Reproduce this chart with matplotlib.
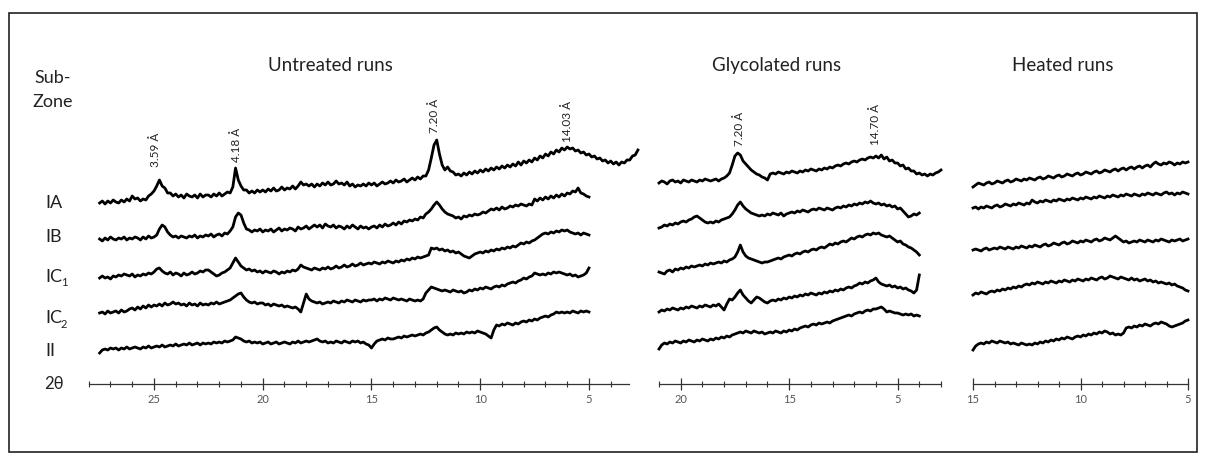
import numpy as np
import matplotlib.pyplot as plt
from matplotlib.patches import Rectangle
from matplotlib.ticker import MultipleLocator, FixedLocator

plt.rcParams['font.family'] = ['Lato', 'DejaVu Sans']

W, H = 1207, 462
STEP = 0.125

# row labels (sub-zones)
subzones = ["IA", "IB", "IC", "IC", "II"]
subscripts = ["", "", "1", "2", ""]

# ---- untreated runs, 2theta from 27.5 down (IA runs a little further)
unt_start = 27.5
unt_IA = [0, 2, -1, 2, 0, 3, 1, 0, 3, 1, 4, 2, 7, 4, 5, 2, 4, 3, 7, 9,
          12, 17, 23, 17, 15, 10, 10, 7, 9, 6, 8, 5, 9, 7, 6, 8, 5, 9, 6, 8,
          8, 6, 9, 7, 10, 7, 9, 11, 10, 16, 35, 23, 17, 13, 13, 10, 12, 10, 13, 11,
          13, 11, 14, 12, 15, 12, 13, 16, 13, 15, 14, 17, 14, 17, 21, 18, 19, 17, 19, 16,
          19, 17, 20, 18, 21, 18, 19, 22, 19, 20, 18, 21, 17, 19, 16, 18, 17, 19, 17, 20,
          18, 20, 17, 19, 21, 19, 20, 22, 20, 23, 21, 22, 24, 21, 23, 25, 23, 26, 24, 27,
          27, 33, 45, 58, 63, 49, 38, 33, 36, 32, 31, 28, 29, 27, 30, 28, 31, 29, 32, 30,
          33, 31, 34, 32, 35, 33, 36, 34, 37, 35, 38, 36, 39, 37, 41, 38, 42, 40, 43, 41,
          45, 43, 47, 45, 49, 47, 51, 49, 53, 51, 55, 53, 56, 54, 55, 52, 53, 50, 51, 48,
          49, 46, 47, 44, 45, 42, 43, 40, 42, 39, 41, 38, 41, 40, 43, 43, 47, 48, 53]
unt_IB = [0, -2, 1, -1, 2, 0, -1, 1, 0, 2, -1, 1, 0, 2, 1, -1, 2, 0, 3, 1,
          2, 4, 10, 14, 12, 7, 4, 2, 3, 1, 3, 2, 1, 3, 2, 4, 1, 3, 2, 4,
          3, 5, 2, 4, 5, 3, 6, 5, 8, 12, 22, 26, 24, 16, 10, 9, 7, 9, 8, 10,
          7, 9, 8, 10, 7, 9, 11, 8, 10, 9, 11, 10, 8, 12, 10, 11, 13, 10, 12, 14,
          12, 14, 11, 15, 13, 12, 14, 11, 13, 12, 10, 13, 11, 14, 12, 10, 13, 11, 12, 10,
          12, 13, 11, 14, 12, 15, 13, 14, 16, 14, 17, 15, 18, 17, 19, 18, 20, 19, 22, 21,
          25, 27, 30, 34, 37, 34, 30, 27, 25, 24, 23, 21, 22, 20, 23, 22, 24, 23, 25, 24,
          25, 27, 26, 28, 30, 29, 31, 29, 32, 30, 31, 33, 32, 34, 33, 35, 34, 33, 35, 34,
          40, 38, 41, 39, 42, 40, 43, 41, 44, 42, 45, 43, 46, 45, 48, 47, 51, 46, 45, 43, 42]
unt_IC1 = [0, 2, 0, 1, -1, 2, 1, 3, 2, 4, 3, 2, 4, 1, 3, 2, 4, 3, 5, 4,
           6, 9, 10, 7, 5, 4, 6, 3, 5, 4, 2, 5, 3, 4, 6, 4, 5, 7, 6, 8,
           8, 6, 4, 2, 3, 5, 6, 8, 10, 15, 20, 16, 12, 10, 8, 9, 7, 8, 6, 7,
           5, 7, 6, 5, 7, 6, 4, 6, 5, 7, 6, 8, 7, 9, 13, 11, 10, 9, 8, 10,
           9, 8, 10, 9, 11, 9, 10, 12, 10, 11, 13, 11, 12, 14, 12, 13, 15, 13, 14, 15,
           14, 16, 15, 14, 16, 15, 17, 16, 15, 17, 16, 18, 17, 19, 18, 20, 19, 21, 20, 21,
           22, 23, 30, 29, 30, 28, 29, 27, 28, 26, 27, 25, 26, 24, 22, 21, 20, 22, 24, 25,
           26, 25, 27, 26, 28, 27, 29, 28, 30, 29, 31, 30, 32, 31, 33, 35, 34, 36, 35, 37,
           38, 40, 42, 44, 45, 44, 46, 45, 47, 46, 48, 47, 48, 46, 45, 44, 45, 43, 45, 44, 43]
unt_IC2 = [0, 1, -1, 2, 0, 1, 2, 0, 3, 1, 2, 4, 5, 3, 6, 4, 7, 5, 8, 6,
           8, 7, 9, 7, 10, 8, 9, 11, 9, 10, 8, 9, 7, 10, 8, 9, 7, 10, 8, 9,
           8, 10, 9, 11, 9, 10, 11, 12, 13, 15, 17, 19, 20, 16, 13, 11, 10, 11, 9, 10,
           10, 8, 9, 7, 9, 8, 7, 8, 6, 7, 6, 5, 6, 4, 1, 10, 19, 14, 12, 11,
           10, 11, 9, 10, 11, 10, 12, 11, 10, 12, 11, 13, 12, 11, 13, 12, 11, 13, 12, 13,
           13, 14, 12, 14, 13, 15, 14, 13, 15, 14, 13, 14, 13, 12, 14, 13, 12, 13, 12, 14,
           20, 23, 26, 25, 24, 23, 22, 23, 22, 21, 23, 22, 21, 22, 20, 21, 23, 22, 24, 23,
           25, 24, 26, 25, 24, 26, 27, 26, 28, 27, 29, 30, 31, 30, 32, 33, 35, 34, 36, 37,
           40, 39, 38, 39, 38, 40, 39, 41, 40, 41, 40, 39, 38, 39, 37, 38, 36, 37, 38, 40, 45]
unt_II = [-3, 0, 1, 0, 2, 1, 2, 0, 2, 1, 3, 1, 2, 3, 2, 1, 3, 2, 4, 2,
          3, 4, 3, 5, 3, 4, 5, 4, 6, 4, 5, 6, 5, 7, 5, 6, 7, 5, 7, 6,
          7, 6, 8, 7, 8, 7, 9, 8, 9, 10, 13, 12, 11, 9, 8, 9, 7, 8, 7, 8,
          6, 7, 8, 6, 7, 8, 6, 7, 8, 7, 6, 8, 7, 9, 7, 8, 9, 8, 9, 10,
          11, 9, 8, 9, 7, 8, 7, 9, 8, 7, 9, 8, 7, 9, 8, 9, 7, 8, 6, 5,
          2, 6, 9, 10, 11, 10, 12, 11, 11, 12, 13, 12, 14, 13, 14, 15, 14, 15, 16, 15,
          17, 18, 20, 22, 23, 20, 18, 16, 15, 16, 15, 17, 16, 17, 16, 18, 17, 18, 17, 19,
          18, 17, 16, 14, 12, 20, 25, 24, 26, 25, 27, 26, 25, 27, 26, 28, 29, 28, 30, 29,
          31, 30, 32, 33, 34, 33, 35, 36, 38, 37, 38, 37, 38, 37, 39, 38, 37, 39, 38, 39, 38]
unt_offsets = [181, 145, 106, 71, 34]

# ---- glycolated runs, 2theta from 16 down
gly_start = 16.0
gly_IA = [0, 2, 1, -1, 2, 3, 1, 2, 0, 3, 2, 1, 3, 2, 1, 3, 2, 4, 3, 2,
          3, 4, 2, 4, 5, 7, 10, 18, 27, 30, 28, 22, 19, 16, 13, 11, 9, 8, 6, 5,
          3, 9, 10, 9, 11, 10, 9, 11, 10, 12, 11, 10, 12, 11, 13, 12, 14, 13, 12, 14,
          13, 15, 14, 16, 15, 17, 18, 17, 19, 20, 19, 21, 22, 21, 23, 24, 23, 25, 26, 25,
          27, 25, 28, 24, 26, 22, 23, 20, 20, 17, 18, 14, 15, 12, 12, 9, 10, 8, 9, 7,
          9, 8, 10, 11, 13]
gly_IB = [0, 1, 3, 2, 4, 3, 5, 4, 6, 7, 6, 8, 9, 11, 12, 10, 8, 6, 5, 6,
          5, 7, 6, 8, 9, 10, 11, 14, 18, 23, 26, 22, 19, 17, 15, 14, 13, 12, 13, 12,
          14, 13, 15, 14, 13, 15, 12, 14, 15, 16, 15, 17, 16, 18, 17, 16, 18, 19, 18, 20,
          19, 18, 20, 19, 18, 20, 21, 20, 22, 21, 23, 22, 24, 23, 25, 24, 26, 25, 27, 25,
          24, 25, 23, 24, 22, 23, 21, 22, 19, 20, 17, 14, 11, 12, 14, 13, 15]
gly_IC1 = [0, -1, -2, 1, 2, 0, 3, 2, 4, 3, 5, 4, 6, 5, 6, 7, 6, 8, 7, 9,
           8, 9, 10, 9, 11, 10, 12, 13, 15, 20, 27, 20, 16, 14, 13, 12, 11, 10, 9, 10,
           10, 11, 12, 13, 14, 13, 15, 16, 17, 16, 18, 19, 18, 20, 21, 20, 22, 23, 22, 24,
           25, 24, 26, 28, 27, 29, 28, 30, 31, 30, 32, 34, 33, 35, 36, 35, 37, 38, 37, 39,
           38, 39, 37, 36, 35, 36, 34, 32, 30, 31, 28, 27, 25, 24, 22, 20, 17]
gly_IC2 = [0, 2, 1, 3, 2, 4, 3, 2, 4, 3, 5, 4, 6, 5, 4, 6, 5, 7, 6, 5,
           7, 6, 8, 5, 2, 8, 13, 12, 15, 19, 22, 17, 14, 11, 9, 12, 15, 14, 12, 10,
           9, 11, 12, 11, 13, 12, 14, 13, 15, 14, 16, 15, 17, 16, 18, 17, 19, 18, 17, 19,
           18, 20, 19, 21, 20, 22, 21, 23, 22, 24, 25, 24, 26, 27, 29, 28, 30, 29, 31, 32,
           34, 30, 28, 27, 26, 27, 25, 26, 24, 25, 23, 24, 22, 21, 19, 22, 37]
gly_II = [-4, 0, 2, 1, 3, 2, 4, 3, 2, 4, 3, 5, 4, 3, 5, 4, 6, 5, 4, 6,
          5, 7, 6, 8, 7, 9, 8, 10, 11, 12, 13, 12, 14, 13, 12, 14, 13, 12, 13, 11,
          12, 13, 12, 14, 13, 12, 14, 13, 15, 14, 16, 15, 17, 18, 19, 18, 20, 21, 20, 22,
          21, 22, 23, 22, 24, 25, 26, 27, 28, 29, 30, 29, 31, 32, 33, 32, 34, 35, 34, 36,
          36, 37, 38, 36, 33, 34, 33, 32, 32, 31, 30, 31, 30, 31, 29, 30, 29]
gly_offsets = [201, 156, 112, 72, 39]

# ---- heated runs, 2theta from 15 down to 5
heat_start = 15.0
heat_IA = [-2, 0, 2, 1, 0, 2, 3, 1, 2, 4, 3, 2, 4, 5, 3, 4, 6, 5, 4, 6,
           5, 7, 6, 5, 7, 8, 6, 7, 9, 8, 7, 9, 10, 8, 9, 11, 10, 9, 11, 12,
           10, 11, 13, 12, 11, 13, 14, 12, 13, 15, 14, 13, 15, 16, 14, 16, 17, 15, 17, 18,
           16, 18, 19, 17, 19, 20, 18, 21, 23, 21, 20, 22, 21, 23, 22, 20, 22, 21, 23, 22, 23]
heat_IB = [0, 1, -1, 1, 0, 2, 1, 0, 2, 3, 1, 2, 4, 3, 2, 4, 3, 5, 4, 3,
           5, 4, 8, 6, 5, 7, 6, 8, 7, 6, 8, 7, 9, 8, 7, 9, 8, 10, 9, 8,
           10, 9, 11, 10, 9, 11, 10, 12, 11, 10, 12, 11, 13, 12, 11, 13, 12, 14, 13, 12,
           14, 13, 12, 14, 13, 15, 14, 13, 15, 14, 13, 15, 16, 14, 15, 13, 15, 14, 16, 15, 14]
heat_IC1 = [0, 1, 0, -1, 1, 2, 0, 1, 2, 1, 3, 2, 1, 3, 2, 1, 3, 2, 4, 3,
            2, 4, 3, 5, 4, 3, 5, 6, 4, 5, 7, 6, 5, 7, 8, 6, 7, 9, 8, 7,
            9, 8, 10, 9, 8, 10, 11, 9, 10, 12, 11, 10, 12, 14, 12, 10, 8, 9, 7, 8,
            9, 8, 10, 9, 8, 10, 9, 8, 10, 9, 11, 10, 9, 8, 10, 9, 10, 11, 9, 10, 11]
heat_IC2 = [0, 2, 1, 3, 2, 1, 3, 4, 3, 5, 4, 6, 5, 7, 6, 8, 7, 9, 8, 10,
            11, 10, 12, 11, 13, 12, 11, 13, 12, 14, 13, 12, 14, 13, 15, 14, 13, 15, 14, 16,
            15, 14, 16, 15, 17, 16, 15, 17, 18, 16, 17, 19, 18, 17, 16, 18, 17, 16, 15, 17,
            15, 16, 14, 15, 16, 14, 15, 13, 14, 12, 13, 12, 11, 12, 10, 11, 9, 8, 7, 5, 4]
heat_II = [-5, -1, 1, 2, 1, 3, 2, 4, 3, 2, 4, 3, 2, 3, 1, 2, 1, 0, 2, 1,
           0, 1, 0, 2, 1, 3, 2, 4, 3, 5, 4, 6, 5, 7, 6, 8, 7, 6, 8, 9,
           8, 10, 9, 11, 10, 12, 11, 13, 12, 14, 13, 11, 12, 10, 11, 10, 12, 17, 18, 17,
           19, 18, 20, 19, 21, 20, 19, 21, 22, 21, 23, 22, 21, 19, 18, 19, 20, 21, 22, 24, 25]
heat_offsets = [199, 176, 134, 89, 39]

# peak annotations: (2theta, label, height of label base)
unt_peaks = [(24.95, "3.59 Å", 217), (21.2, "4.18 Å", 222), (12.1, "7.20 Å", 251), (5.97, "14.03 Å", 242)]
gly_peaks = [(12.3, "7.20 Å", 238), (6.0, "14.70 Å", 239)]

fig = plt.figure(figsize=(W / 100, H / 100), dpi=100)
fig.patches.append(Rectangle((9 / W, 1 - 452 / H), (1197 - 9) / W, (452 - 13) / H,
                             transform=fig.transFigure, fill=False, ec='#222', lw=1.2))


def panel(x0, x1, xlim, start, traces, offsets, major, labels, peaks):
    ax = fig.add_axes([x0 / W, 1 - 384 / H, (x1 - x0) / W, 284 / H])
    ax.set_xlim(*xlim)
    ax.set_ylim(0, 284)
    for vals, off in zip(traces, offsets):
        x = start - STEP * np.arange(len(vals))
        ax.plot(x, np.array(vals) + off, color='k', lw=2.0, clip_on=False)
    for t, lab, yb in peaks:
        ax.text(t, yb, lab, rotation=90, ha='center', va='bottom', fontsize=8.5, color='#222')
    for s in ['left', 'right', 'top']:
        ax.spines[s].set_visible(False)
    ax.spines['bottom'].set_color('#333')
    ax.spines['bottom'].set_linewidth(0.9)
    ax.set_yticks([])
    ax.xaxis.set_major_locator(FixedLocator(major))
    ax.xaxis.set_minor_locator(MultipleLocator(1))
    ax.set_xticklabels(labels)
    ax.tick_params(axis='x', which='major', direction='inout', length=8, width=0.9,
                   color='#333', labelsize=8, labelcolor='#555', pad=3)
    ax.tick_params(axis='x', which='minor', direction='inout', length=5, width=0.8, color='#333')
    ax.patch.set_alpha(0)
    return ax


panel(88.75, 629, (28, 3.16), unt_start, [unt_IA, unt_IB, unt_IC1, unt_IC2, unt_II],
      unt_offsets, [25, 20, 15, 10, 5], ["25", "20", "15", "10", "5"], unt_peaks)
panel(659, 941, (16, 3), gly_start, [gly_IA, gly_IB, gly_IC1, gly_IC2, gly_II],
      gly_offsets, [15, 10, 5], ["20", "15", "5"], gly_peaks)
panel(973, 1188, (15, 5), heat_start, [heat_IA, heat_IB, heat_IC1, heat_IC2, heat_II],
      heat_offsets, [15, 10, 5], ["15", "10", "5"], [])


def ftext(x, y, s, **kw):
    fig.text(x / W, 1 - y / H, s, **kw)


ftext(330, 65, "Untreated runs", ha='center', va='center', fontsize=13.5, color='#222')
ftext(777, 65, "Glycolated runs", ha='center', va='center', fontsize=13.5, color='#222')
ftext(1063, 65, "Heated runs", ha='center', va='center', fontsize=13.5, color='#222')
ftext(34, 78, "Sub-", ha='left', va='center', fontsize=13, color='#222')
ftext(32, 102, "Zone", ha='left', va='center', fontsize=13, color='#222')

row_y = [203, 237, 277, 318, 351]
for name, sub, y in zip(subzones, subscripts, row_y):
    ftext(45, y, name, ha='left', va='center', fontsize=13, color='#222')
    if sub:
        ftext(61, y + 6, sub, ha='left', va='center', fontsize=8, color='#222')
ftext(44, 384, "2θ", ha='left', va='center', fontsize=12, color='#222')

fig.savefig("out.png", dpi=100)
